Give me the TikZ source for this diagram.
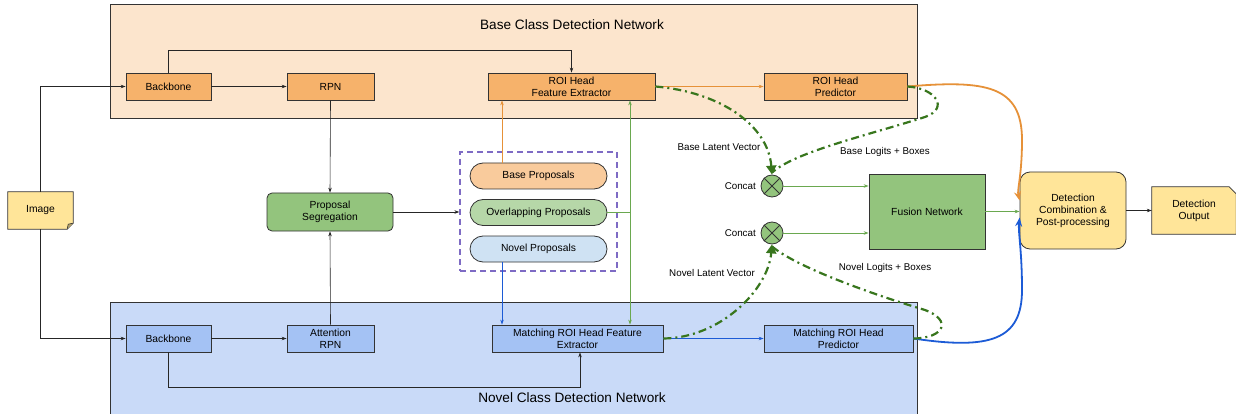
\documentclass[tikz,border=0pt]{standalone}
\usepackage{fontspec}
\setmainfont{Liberation Sans}
\usetikzlibrary{arrows.meta,shapes.misc,calc}
\definecolor{pbase}{HTML}{FCE5CD}
\definecolor{pnovel}{HTML}{C9DAF8}
\definecolor{obox}{HTML}{F6B26B}
\definecolor{bbox}{HTML}{A4C2F4}
\definecolor{gbox}{HTML}{93C47D}
\definecolor{ybox}{HTML}{FFE599}
\definecolor{bprop}{HTML}{F9CB9C}
\definecolor{oprop}{HTML}{B6D7A8}
\definecolor{nprop}{HTML}{CFE2F3}
\definecolor{oline}{HTML}{E69138}
\definecolor{bline}{HTML}{1C5BD6}
\definecolor{gline}{HTML}{6AA84F}
\definecolor{dgline}{HTML}{38761D}
\definecolor{dline}{HTML}{7E6BC4}
\definecolor{edge}{HTML}{333333}
\begin{document}
\begin{tikzpicture}[x=1pt,y=-1pt,
  font=\fontsize{10.3}{12}\selectfont,
  every node/.style={inner sep=0pt, align=center},
  box/.style={draw=edge, line width=0.8pt, minimum height=27pt},
  obx/.style={box, fill=obox},
  bbx/.style={box, fill=bbox},
  prop/.style={rounded rectangle, draw=edge, line width=0.8pt, minimum width=137pt, minimum height=26pt},
  arr/.style={-{Stealth[length=5pt,width=3.5pt]}, line width=0.6pt, black!85},
  oarr/.style={arr, oline},
  barr/.style={arr, bline},
  garr/.style={arr, gline},
  dd/.style={dgline, line width=2.2pt, dash pattern=on 8pt off 4pt on 2pt off 4pt},
  ddarr/.style={dd, -{Triangle[length=9pt,width=10pt]}},
  big/.style={line width=1.8pt, -{Stealth[length=9pt,width=7pt]}},
  lab/.style={font=\fontsize{9.8}{11}\selectfont}
]
\useasboundingbox (0,0) rectangle (1236,414);
\fill[white] (0,0) rectangle (1236,414);
% panels
\filldraw[fill=pbase, draw=edge, line width=1pt] (110,5) rectangle (917,119);
\fill[pnovel] (110,302) rectangle (917,416);
\draw[edge, line width=1pt] (110,416) -- (110,302) -- (917,302) -- (917,416);
\node[font=\fontsize{13.6}{15}\selectfont] (tbase) at (572,25) {Base Class Detection Network};
\node[font=\fontsize{13.6}{15}\selectfont] (tnovel) at (572,398) {Novel Class Detection Network};
% top row
\node[obx, minimum width=85pt] (bb1) at (168.5,86.5) {Backbone};
\node[obx, minimum width=87pt] (rpn1) at (330.5,86.5) {RPN};
\node[obx, minimum width=167pt] (roife) at (571.5,86.5) {ROI Head\\Feature Extractor};
\node[obx, minimum width=143pt] (roip) at (835.5,86.5) {ROI Head\\Predictor};
% bottom row
\node[bbx, minimum width=85pt] (bb2) at (168.5,338.5) {Backbone};
\node[bbx, minimum width=87pt] (arpn) at (330.5,338.5) {Attention\\RPN};
\node[bbx, minimum width=171pt] (mfe) at (577.5,338.5) {Matching ROI Head Feature\\Extractor};
\node[bbx, minimum width=149pt] (mrp) at (838.5,338.5) {Matching ROI Head\\Predictor};
% image note
\node[minimum width=65pt, minimum height=37pt] (img) at (40.5,210.5) {Image};
\filldraw[fill=ybox, draw=edge, line width=0.8pt]
  (img.north west) -- (img.north east) -- ([yshift=6pt]img.south east) -- ([xshift=-6pt]img.south east) -- (img.south west) -- cycle;
\draw[edge, line width=0.6pt, fill=ybox!70!black] ([yshift=6pt]img.south east) -- ([xshift=-5pt,yshift=5pt]img.south east) -- ([xshift=-6pt]img.south east);
\node at (img.center) {Image};
% proposal segregation
\node[draw=edge, line width=0.8pt, fill=gbox, rounded corners=5pt, minimum width=126pt, minimum height=38pt] (seg) at (330,212) {Proposal\\Segregation};
% dashed box and proposals
\node[draw=dline, line width=1.3pt, dash pattern=on 6pt off 4pt, minimum width=157pt, minimum height=119pt] (dbox) at (538.5,211.5) {};
\node[prop, fill=bprop] (bp) at (538.5,176) {Base Proposals};
\node[prop, fill=oprop] (op) at (538.5,212.5) {Overlapping Proposals};
\node[prop, fill=nprop] (np) at (538.5,249) {Novel Proposals};
% concat
\node[circle, draw=edge, line width=0.8pt, fill=gbox, minimum size=22pt] (cb) at (772,186) {};
\draw[edge, line width=0.8pt] (cb.north east) -- (cb.south west) (cb.north west) -- (cb.south east);
\node[circle, draw=edge, line width=0.8pt, fill=gbox, minimum size=22pt] (cn) at (772,233) {};
\draw[edge, line width=0.8pt] (cn.north east) -- (cn.south west) (cn.north west) -- (cn.south east);
\node[lab, anchor=east] (lcb) at (756,186) {Concat};
\node[lab, anchor=east] (lcn) at (756,233) {Concat};
% fusion, combination, output
\node[draw=edge, line width=0.8pt, fill=gbox, minimum width=116pt, minimum height=75pt] (fus) at (927,211.5) {Fusion Network};
\node[draw=edge, line width=0.8pt, fill=ybox, rounded corners=10pt, minimum width=106pt, minimum height=77pt] (dcp) at (1073,210.5) {Detection\\Combination \&\\Post-processing};
\node[minimum width=84pt, minimum height=47pt] (out) at (1194,210.5) {};
\filldraw[fill=ybox, draw=edge, line width=0.8pt]
  (out.north west) -- ([xshift=-7pt]out.north east) -- ([yshift=-7pt]out.north east) -- (out.south east) -- (out.south west) -- cycle;
\node at (out.center) {Detection\\Output};
% labels
\node[lab] (lbl) at (719,147) {Base Latent Vector};
\node[lab] (lbb) at (885,152) {Base Logits + Boxes};
\node[lab] (lnl) at (712,273) {Novel Latent Vector};
\node[lab] (lnb) at (885,268) {Novel Logits + Boxes};
% black connectors
\draw[arr] (img.north) |- (bb1.west);
\draw[arr] (img.south) |- (bb2.west);
\draw[arr] (bb1) -- (rpn1);
\draw[arr] (bb1.north) -- ++(0,-22) -| (roife.north);
\draw[arr] (rpn1.south) -- (seg.north);
\draw[arr] (arpn.north) -- (seg.south);
\draw[arr] (seg.east) -- (dbox.west |- seg.east);
\draw[arr] (bb2) -- (arpn);
\draw[arr] (bb2.south) -- ++(0,35) -| ([xshift=2.5pt]mfe.south);
\draw[arr] (dcp.east) -- (out.west);
% coloured connectors
\draw[oarr] ([xshift=-36.5pt]bp.north) -- ([xshift=-36.5pt]bp.north |- roife.south);
\draw[barr] ([xshift=-36.5pt]np.south) -- ([xshift=-36.5pt]np.south |- mfe.north);
\coordinate (ov) at (630,212.5);
\draw[gline, line width=0.6pt] (op.east) -- (ov);
\draw[garr] (ov) -- (ov |- roife.south);
\draw[garr] (ov) -- (ov |- mfe.north);
\draw[oarr] (roife.east) -- (roip.west);
\draw[barr] (mfe.east) -- (mrp.west);
\draw[garr] (cb.east) -- (cb.east -| fus.west);
\draw[garr] (cn.east) -- (cn.east -| fus.west);
\draw[garr] (fus.east) -- (dcp.west |- fus.east);
% big curves
\draw[oline, big] (roip.east) .. controls (985,80) and (1022,85) .. (1022,140) .. controls (1022,175) and (1017,190) .. ([yshift=10pt]dcp.west);
\draw[bline, big] (mrp.east) .. controls (990,350) and (1022,340) .. (1022,290) .. controls (1022,250) and (1018,232) .. ([yshift=-7pt]dcp.west);
% dash-dot
\draw[dd] (roip.east) .. controls (935,88) and (950,108) .. (925,117) .. controls (865,136) and (795,152) .. ([yshift=2pt]cb.north);
\draw[ddarr] (roife.east) .. controls (720,92) and (768,125) .. (cb.north);
\draw[dd] (mrp.east) .. controls (945,338) and (952,320) .. (925,310) .. controls (865,292) and (795,266) .. ([yshift=-2pt]cn.south);
\draw[ddarr] (mfe.east) .. controls (720,338) and (768,290) .. (cn.south);
\end{tikzpicture}
\end{document}
